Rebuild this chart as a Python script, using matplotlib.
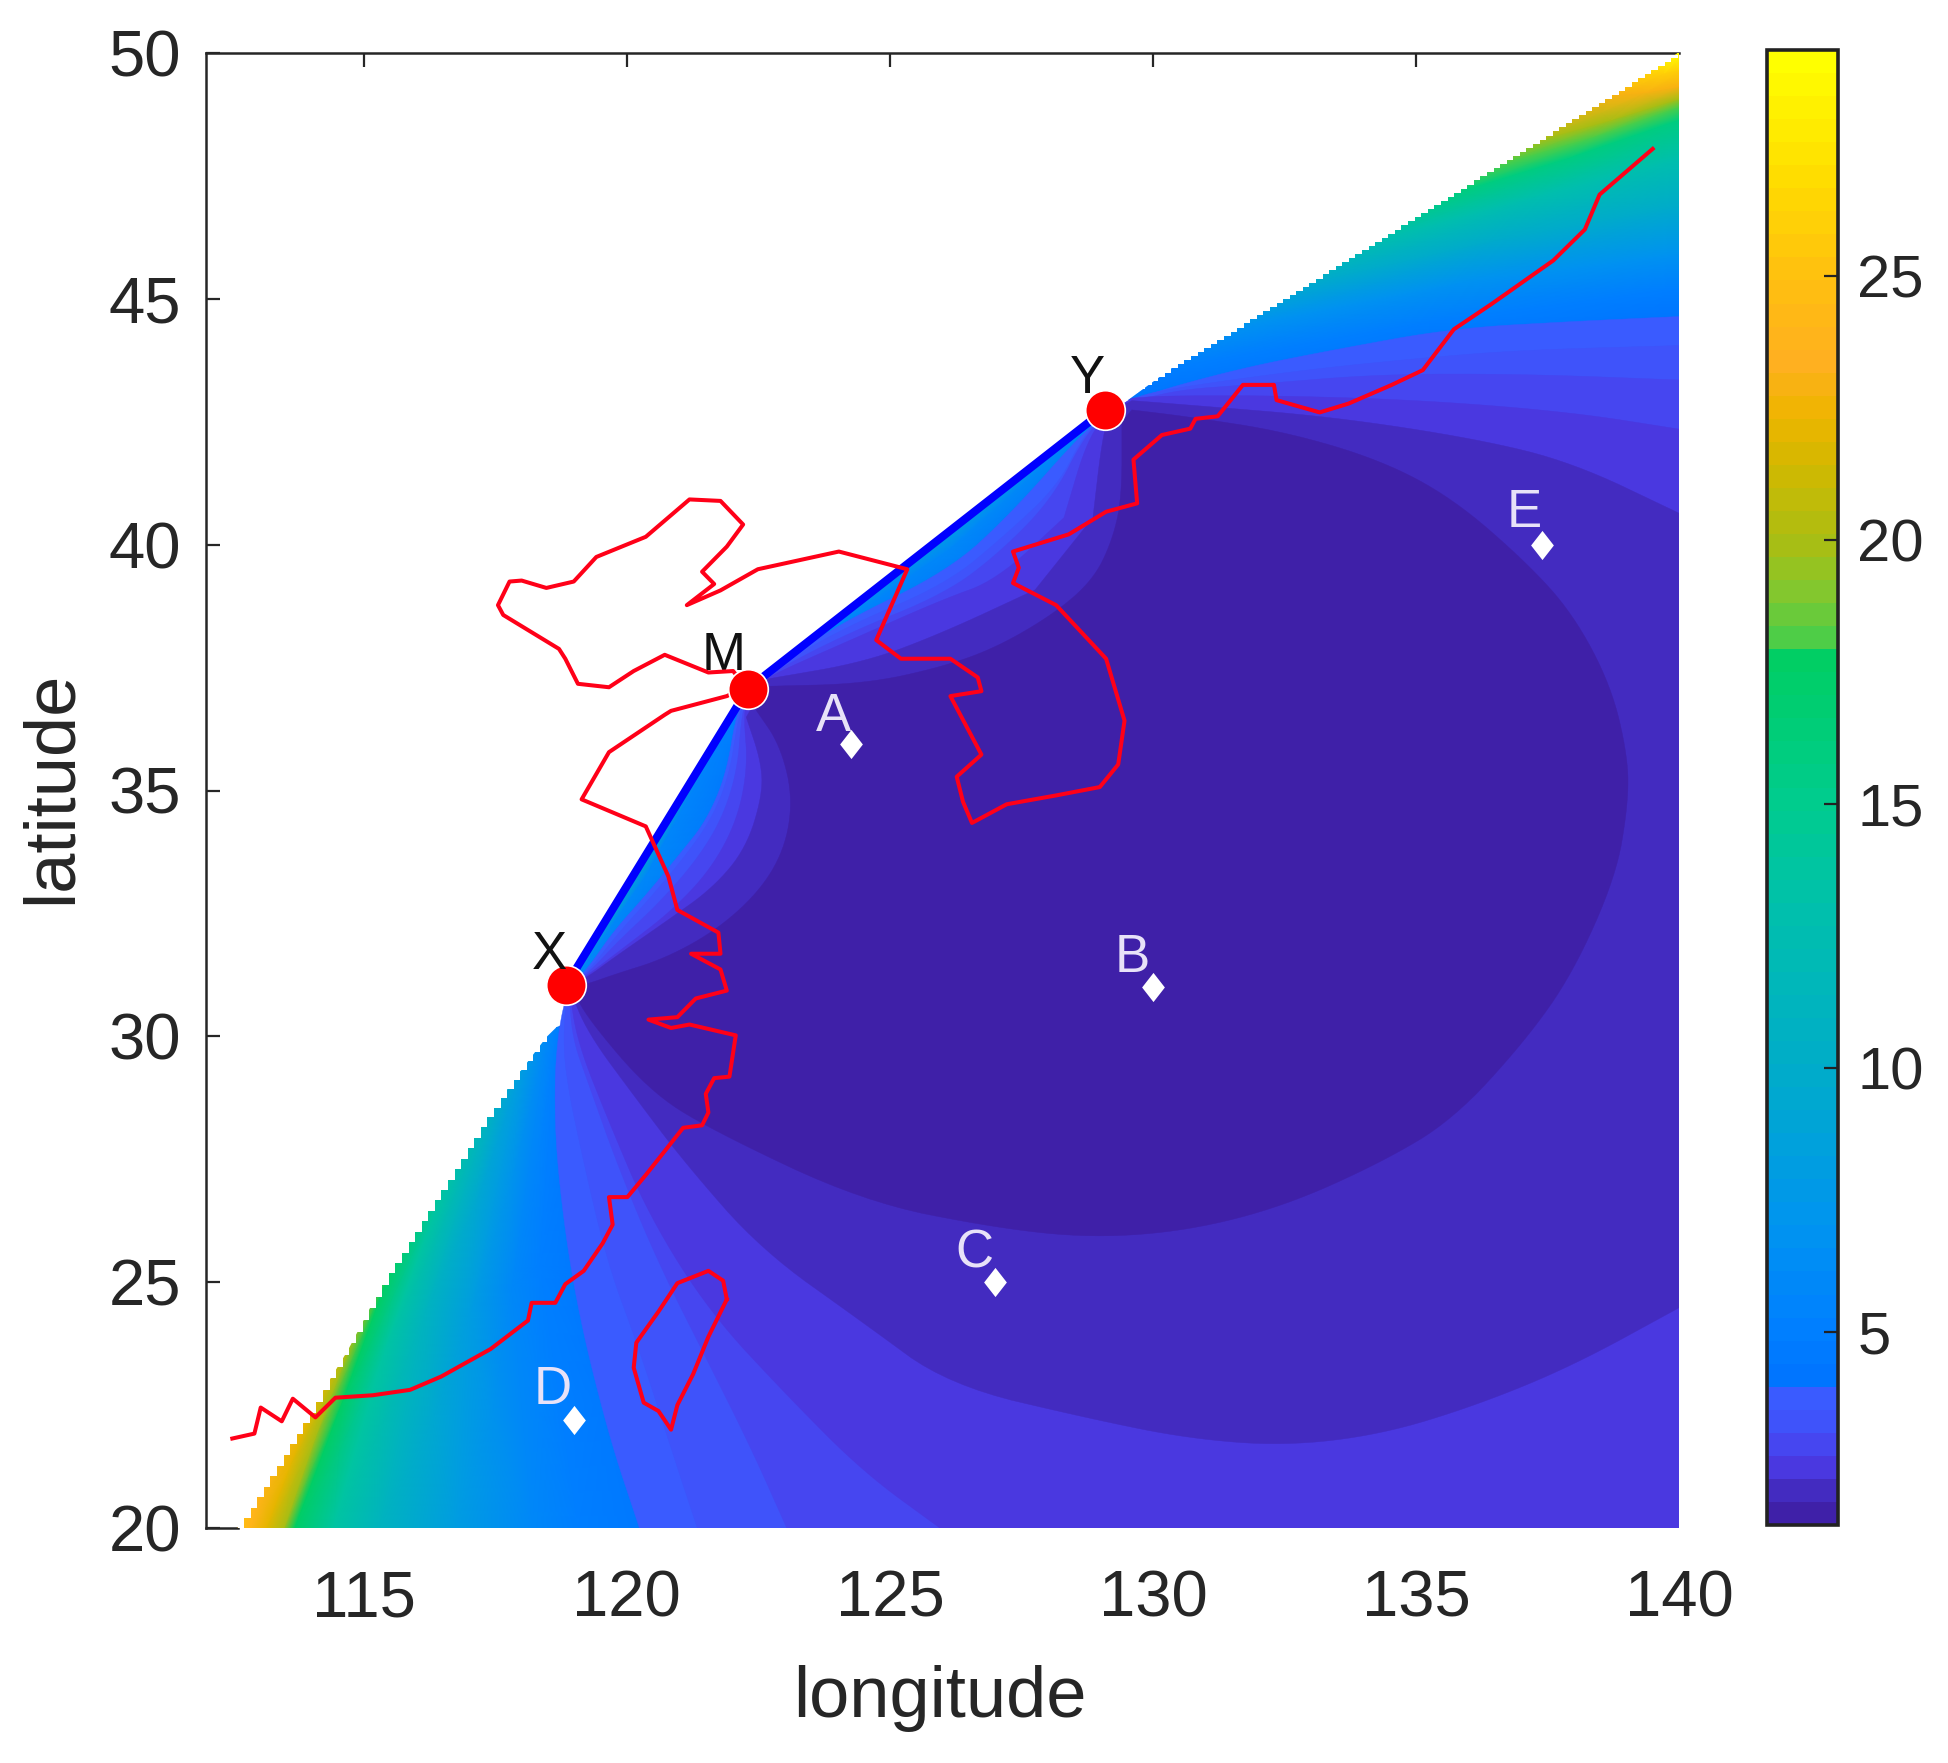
import matplotlib
matplotlib.use('Agg')
import matplotlib.pyplot as plt
import numpy as np
from matplotlib.colors import LinearSegmentedColormap, Normalize
from matplotlib.cm import ScalarMappable

plt.rcParams['font.family'] = ['Liberation Sans', 'DejaVu Sans']

V_MIN = 1.35
V_MAX = 29.28

# colour scale
cmap_values = [1.35, 1.79, 2.22, 2.66, 3.09, 3.6, 3.96, 5, 7, 10, 13, 15, 17.75, 17.9, 19, 20,
               21.5, 22.5, 23.5, 25, 27, 29.28]
cmap_colors = ['#3F20A8', '#432BC0', '#4A38DF', '#4645F0', '#3F52FA', '#3A5CFF', '#0074FF', '#0080FF',
               '#0095EE', '#00ADC8', '#00C0AC', '#00CC8E', '#00CE64', '#3CCF50', '#80C830', '#A8BE14',
               '#D2B800', '#EFB500', '#FFB020', '#FFBE10', '#FFDC00', '#FFFF00']

# coast
coast_lon = [112.50, 112.92, 113.04, 113.44, 113.65, 114.08, 114.46, 115.17, 115.88, 116.47, 117.41, 118.12,
             118.19, 118.64, 118.83, 119.18, 119.54, 119.73, 119.66, 120.01, 120.36, 121.07, 121.43, 121.55,
             121.50, 121.66, 121.95, 122.07, 121.19, 120.84, 120.41, 120.96, 121.31, 121.90, 121.78, 121.22,
             121.78, 121.74, 120.96, 120.79, 120.36, 119.14, 119.66, 120.72, 120.84, 121.90, 122.26, 122.02,
             121.55, 120.72, 120.13, 119.66, 119.07, 118.83, 118.71, 117.65, 117.55, 117.77, 118.00, 118.47,
             118.99, 119.42, 120.36, 121.19, 121.78, 122.21, 121.90, 121.43, 121.66, 121.14, 121.78, 122.49,
             124.03, 125.33, 124.74, 125.21, 126.15, 126.67, 126.74, 126.15, 126.74, 126.27, 126.39, 126.56,
             127.22, 128.16, 128.99, 129.34, 129.46, 129.11, 128.16, 127.34, 127.45, 127.34, 128.40, 129.11,
             129.70, 129.63, 130.17, 130.71, 130.81, 131.23, 131.71, 132.30, 132.35, 133.17, 133.72, 134.54,
             135.13, 135.72, 136.43, 137.61, 138.21, 138.49, 139.50]
coast_lat = [21.82, 21.92, 22.45, 22.17, 22.63, 22.25, 22.65, 22.70, 22.81, 23.08, 23.64, 24.22,
             24.58, 24.58, 24.96, 25.23, 25.79, 26.17, 26.73, 26.73, 27.18, 28.14, 28.19, 28.45,
             28.83, 29.15, 29.18, 30.02, 30.24, 30.17, 30.34, 30.39, 30.77, 30.93, 31.36, 31.68,
             31.68, 32.11, 32.57, 33.25, 34.27, 34.82, 35.78, 36.54, 36.62, 36.92, 37.10, 37.43,
             37.40, 37.76, 37.43, 37.10, 37.17, 37.68, 37.88, 38.57, 38.77, 39.25, 39.27, 39.12,
             39.25, 39.75, 40.16, 40.92, 40.89, 40.41, 39.96, 39.45, 39.20, 38.77, 39.07, 39.50,
             39.86, 39.50, 38.06, 37.68, 37.68, 37.30, 37.02, 36.92, 35.73, 35.28, 34.77, 34.34,
             34.72, 34.90, 35.07, 35.53, 36.42, 37.68, 38.77, 39.22, 39.53, 39.86, 40.21, 40.67,
             40.84, 41.73, 42.23, 42.36, 42.56, 42.61, 43.25, 43.25, 42.94, 42.69, 42.87, 43.25,
             43.55, 44.38, 44.89, 45.78, 46.41, 47.12, 48.05]
taiwan_lon = [121.90, 121.83, 121.55, 120.96, 120.60, 120.18, 120.13, 120.32, 120.60, 120.84, 120.96, 121.26,
              121.55, 121.90]
taiwan_lat = [24.65, 25.03, 25.23, 24.98, 24.40, 23.77, 23.26, 22.55, 22.38, 22.00, 22.50, 23.13,
              23.89, 24.65]

# stations and targets
station_lon = [118.85, 122.30, 129.08]
station_lat = [31.05, 37.07, 42.74]
target_lon = [124.26, 130.0, 127.0, 119.0, 137.4]
target_lat = [35.95, 31.0, 25.0, 22.2, 40.0]
label_text = ['X', 'M', 'Y', 'A', 'B', 'C', 'D', 'E']
label_lon = [118.52, 121.83, 128.75, 123.93, 129.6, 126.6, 118.59, 137.05]
label_lat = [31.66, 37.73, 43.37, 36.49, 31.6, 25.59, 22.8, 40.64]
label_color = ['#111111', '#111111', '#111111', '#E8E2F8', '#E8E2F8', '#E8E2F8', '#E8E2F8', '#E8E2F8']
label_order = [8, 5.5, 5.5, 8, 8, 8, 8, 8]

# where the field stops and white begins
edge_lon = [112.61, 114.02, 115.47, 117.32, 118.67, 118.85, 122.30, 129.08, 140]
edge_lat = [20, 22.42, 25.17, 28.31, 30.37, 31.05, 37.07, 42.74, 50]

# smooth corner of the field, top right: one row per value, white edge to right edge
tr_val = [4.0, 5, 7, 10, 13, 16, 18, 20, 23, 26, 29]
tr_lon = [[129.54, 135.25, 140], [130.41, 135.25, 140], [131.6, 135.79, 140], [132.97, 136.52, 140],
          [134.33, 137.25, 140], [135.7, 137.89, 140], [136.62, 138.35, 140], [137.34, 138.71, 140],
          [138.71, 139.35, 140], [139.35, 139.72, 140], [139.97, 139.98, 140]]
tr_lat = [[42.94, 43.9, 44.64], [43.62, 44.54, 45.22], [44.42, 45.32, 45.91], [45.33, 46.2, 46.88],
          [46.23, 47.08, 47.86], [47.14, 47.86, 48.64], [47.75, 48.29, 48.91], [48.23, 48.64, 49.07],
          [49.14, 49.2, 49.32], [49.57, 49.59, 49.66], [49.98, 49.99, 50]]

# smooth corner, bottom left: one row per value, white edge to bottom edge
bl_val = [4.0, 5, 6, 8, 11, 14, 17.6, 20, 22, 24, 25]
bl_lon = [[118.9, 119.6, 121.0], [118.67, 118.33, 119.06], [118.48, 117.8, 118.19], [117.99, 117.02, 116.73],
          [117.32, 116.15, 115.28], [116.54, 115.38, 114.41], [115.47, 114.6, 113.68], [114.7, 114.07, 113.48],
          [114.02, 113.58, 113.14], [113.05, 112.95, 112.85], [112.61, 112.61, 112.61]]
bl_lat = [[30.28, 24.68, 20], [30.18, 25.36, 20], [29.98, 24.87, 20], [29.29, 24.38, 20],
          [28.31, 24.38, 20], [27.03, 23.6, 20], [25.17, 22.61, 20], [23.6, 21.83, 20],
          [22.42, 21.24, 20], [20.8, 20.45, 20], [20, 20, 20]]

# strips along the two baselines
mx_lon = [[122.5, 121.8, 119.6], [122.19, 120.37, 119.1], [122.3, 120.37, 118.95]]
mx_lat = [[36.4, 33.5, 31.3], [36.8, 33.3, 31.3], [37.07, 33.7, 31.2]]
mx_val = [[4.0, 4.0, 4.0], [5, 6, 6], [5, 10, 11]]
my_lon = [[123.0, 126.8, 129.3], [122.5, 126.12, 128.85], [122.3, 126.12, 129.08]]
my_lat = [[36.9, 39.3, 42.3], [37.2, 39.9, 42.5], [37.07, 40.26, 42.74]]
my_val = [[4.0, 4.0, 4.0], [5, 6, 6], [5, 8, 7]]

# flat contour regions, outermost first: value and outline
level_val = [3.75, 3.31, 2.88, 2.44, 2.0, 1.57]
level_lon = [
    [118.9, 119.26, 119.74, 120.37, 121.0, 121.51, 121.89, 122.08, 122.3, 122.68, 124.05, 126.12, 127.31, 128.68,
     129.2, 129.77, 131.6, 133.42, 135.7, 137.98, 140, 140, 120.24, 119.64, 119.01, 118.67, 118.62, 118.72],
    [118.9, 119.3, 119.8, 120.45, 121.1, 121.6, 121.95, 122.12, 122.3, 122.68, 124.1, 126.08, 127.2, 128.2, 128.7,
     129.2, 129.68, 130.68, 133, 135.25, 137.07, 140, 140, 121.34, 120.9, 120.22, 119.64, 119.16, 118.82, 118.8],
    [118.9, 119.3, 119.85, 120.6, 121.3, 121.8, 122.1, 122.18, 122.3, 122.68, 124.2, 126.05, 127.1, 128.1, 128.72,
     129.2, 130.23, 132.05, 134.33, 137.07, 140, 140, 123.04, 122.36, 121.58, 120.61, 119.84, 119.25, 118.96],
    [118.9, 119.3, 120, 120.85, 121.6, 122.1, 122.3, 122.22, 122.3, 122.68, 124.34, 125.99, 127.03, 128.31, 128.77,
     129.2, 129.6, 130.23, 132.5, 135.25, 137.98, 140, 140, 125.95, 124.49, 123.04, 121.58, 120.42, 119.64, 119.06],
    [118.9, 119.3, 119.74, 120.75, 121.64, 122.27, 122.58, 122.55, 122.27, 122.68, 124.53, 125.99, 127.76, 128.86,
     129.04, 129.2, 129.6, 130.68, 133.42, 136.16, 137.98, 140, 140, 137.98, 136.16, 134.33, 132.5, 130.68, 128.86,
     126.12, 124.49, 122.55, 121.1, 120.13, 119.25],
    [118.95, 119.3, 119.74, 120.75, 121.76, 122.58, 123.03, 123.15, 122.9, 122.46, 122.68, 124.53, 125.99, 127.03,
     128.13, 128.86, 129.22, 129.41, 129.41, 129.6, 130.68, 132.5, 134.33, 135.7, 137.07, 137.98, 138.71, 139.03,
     139.03, 138.8, 137.98, 137.07, 135.7, 134.33, 132.5, 130.68, 128.86, 127.03, 124.49, 121.58, 120.42, 119.25],
]
level_lat = [
    [31.0, 31.38, 32.13, 32.88, 33.7, 34.38, 35.33, 36.56, 37.0, 37.42, 38.4, 39.47, 40.64, 42.3,
     42.7, 43.03, 43.57, 43.96, 44.4, 44.54, 44.64, 20, 20, 21.93, 24.68, 27.33, 29.1, 30.28],
    [31.0, 31.36, 32.05, 32.82, 33.65, 34.4, 35.3, 36.5, 37.0, 37.4, 38.3, 39.2, 40.2, 41.2, 42.27,
     42.7, 43.03, 43.23, 43.57, 43.81, 43.96, 44.05, 20, 20, 21.43, 23.69, 25.36, 27.52, 29.29, 30.3],
    [31.0, 31.32, 31.95, 32.7, 33.55, 34.4, 35.4, 36.5, 37.0, 37.36, 38.2, 39.0, 39.85, 40.95, 42.25,
     42.7, 43.13, 43.27, 43.47, 43.47, 43.35, 20, 20, 21.63, 23.3, 25.36, 27.33, 29.1, 29.98],
    [31.0, 31.28, 31.85, 32.55, 33.4, 34.4, 35.5, 36.5, 37.0, 37.32, 38.1, 38.88, 39.28, 40.55, 42.2,
     42.7, 42.98, 43.03, 43.03, 42.93, 42.69, 42.35, 20, 20, 21.14, 22.7, 24.38, 26.35, 28.31, 29.88],
    [31.0, 31.24, 31.59, 32.34, 33.02, 33.83, 34.92, 35.6, 36.49, 37.27, 37.61, 38.2, 39.08, 40.55,
     42.2, 42.7, 42.93, 42.84, 42.6, 42.15, 41.67, 40.64, 24.48, 23.3, 22.5, 21.9, 21.67, 21.82, 22.21,
     22.9, 24.18, 25.66, 27.43, 28.8, 30.08],
    [31.0, 31.08, 31.25, 31.59, 32.2, 33.02, 33.9, 34.92, 35.95, 36.63, 37.12, 37.17, 37.51, 37.91,
     38.6, 39.28, 40.06, 40.94, 42.5, 42.74, 42.6, 42.3, 41.72, 40.94, 39.67, 38.6, 37.13, 35.67,
     34.7, 33.25, 31.28, 29.9, 28.3, 27.43, 26.55, 26.05, 25.9, 26.1, 26.64, 28.11, 28.9, 30.37],
]

x_ticks = [115, 120, 125, 130, 135, 140]
y_ticks = [20, 25, 30, 35, 40, 45, 50]
cbar_ticks = [5, 10, 15, 20, 25]
TEXT = '#262626'


def make_cmap():
    pos = [(v - V_MIN) / (V_MAX - V_MIN) for v in cmap_values]
    return LinearSegmentedColormap.from_list('field', list(zip(pos, cmap_colors)), N=64)


def smooth(lon, lat, rounds=3):
    # corner cutting for the contour outlines, sharp corners are kept by doubling them
    pts = np.column_stack([lon, lat])
    a = pts - np.roll(pts, 1, axis=0)
    b = np.roll(pts, -1, axis=0) - pts
    cos = (a * b).sum(axis=1) / (np.hypot(*a.T) * np.hypot(*b.T))
    pts = np.repeat(pts, 1 + (cos < 0.9), axis=0)
    for _ in range(rounds):
        nxt = np.roll(pts, -1, axis=0)
        pts = np.column_stack([0.75 * pts + 0.25 * nxt, 0.25 * pts + 0.75 * nxt]).reshape(-1, 2)
    return pts[:, 0], pts[:, 1]


def draw_field(ax, cmap, norm):
    top = np.array(tr_val)[:, None] * np.ones((len(tr_val), 3))
    left = np.array(bl_val)[:, None] * np.ones((len(bl_val), 3))
    ax.pcolormesh(tr_lon, tr_lat, top, shading='gouraud', cmap=cmap, norm=norm, zorder=3)
    ax.pcolormesh(bl_lon, bl_lat, left, shading='gouraud', cmap=cmap, norm=norm, zorder=3)
    ax.pcolormesh(mx_lon, mx_lat, mx_val, shading='gouraud', cmap=cmap, norm=norm, zorder=3)
    ax.pcolormesh(my_lon, my_lat, my_val, shading='gouraud', cmap=cmap, norm=norm, zorder=3)
    for val, lon, lat in zip(level_val, level_lon, level_lat):
        col = cmap(norm(val))
        x, y = smooth(lon, lat)
        ax.fill(x, y, facecolor=col, edgecolor=col, lw=0.3, zorder=3.2)

    # coarse grid look of the white edge, the baselines stay clean
    cells = np.arange(112.6, 140.01, 0.125)
    low = np.interp(cells, edge_lon, edge_lat)
    ax.fill_between(cells, low, np.minimum(low + 0.5, 49.95), where=(cells < 118.6) | (cells > 129.4),
                    step='post', color='white', lw=0, zorder=3.5)


def main():
    cmap = make_cmap()
    norm = Normalize(V_MIN, V_MAX)

    fig = plt.figure(figsize=(19.49, 17.63), dpi=100)
    ax = fig.add_axes([206 / 1949, 1 - 1528 / 1763, 1473 / 1949, 1475 / 1763])
    draw_field(ax, cmap, norm)

    ax.plot(station_lon[:2], station_lat[:2], color='#0000FF', lw=5.8, zorder=5, solid_capstyle='butt')
    ax.plot(station_lon[1:], station_lat[1:], color='#0000FF', lw=5.8, zorder=5, solid_capstyle='butt')
    ax.plot(coast_lon, coast_lat, color='#FF0018', lw=2.9, zorder=6)
    ax.plot(taiwan_lon, taiwan_lat, color='#FF0018', lw=2.9, zorder=6)
    ax.plot(station_lon, station_lat, ls='none', marker='o', ms=28.5, mfc='#FF0000', mec='white', mew=1.2, zorder=7)
    ax.plot(target_lon, target_lat, ls='none', marker=((0, 1), (0.78, 0), (0, -1), (-0.78, 0)), ms=21,
            mfc='white', mec='white', mew=0, zorder=7)
    for t, x, y, c, z in zip(label_text, label_lon, label_lat, label_color, label_order):
        ax.text(x, y, t, color=c, fontsize=38, ha='center', va='center', zorder=z)

    ax.set_xlim(112, 140)
    ax.set_ylim(20, 50)
    ax.set_xticks(x_ticks)
    ax.set_yticks(y_ticks)
    ax.tick_params(direction='in', length=10, width=1.6, top=True, left=True, bottom=True, right=False,
                   color=TEXT, labelcolor=TEXT, labelsize=47)
    ax.tick_params(axis='x', pad=30)
    ax.tick_params(axis='y', pad=18)
    last = ax.xaxis.get_major_ticks()[-1]
    last.tick1line.set_visible(False)
    last.tick2line.set_visible(False)
    for side in ax.spines:
        ax.spines[side].set_color(TEXT)
        ax.spines[side].set_linewidth(1.8)
    ax.spines['right'].set_visible(False)
    ax.spines['bottom'].set_bounds(112, 112.6)
    ax.set_xlabel('longitude', fontsize=52, color=TEXT)
    ax.set_ylabel('latitude', fontsize=52, color=TEXT)
    ax.xaxis.set_label_coords(0.498, -0.093)
    ax.yaxis.set_label_coords(-0.082, 0.502)

    cax = fig.add_axes([1767 / 1949, 1 - 1525 / 1763, 71 / 1949, 1475 / 1763])
    cb = fig.colorbar(ScalarMappable(norm=norm, cmap=cmap), cax=cax)
    cb.set_ticks(cbar_ticks)
    cb.outline.set_edgecolor('#222222')
    cb.outline.set_linewidth(2.6)
    cax.tick_params(direction='in', length=10, width=1.6, color='#222222', labelcolor=TEXT, labelsize=43, pad=14)

    fig.savefig('out.png', dpi=100)


if __name__ == '__main__':
    main()
